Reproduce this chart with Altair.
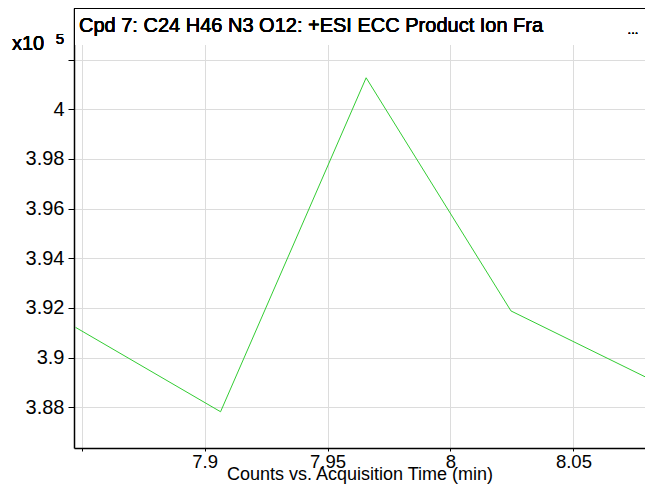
import altair as alt
import pandas as pd

# Acquisition time (min) and counts (x10^5)
times = [7.8475, 7.9065, 7.9657, 8.0246, 8.0836]
counts = [3.9122, 3.8782, 4.0127, 3.9188, 3.8901]

x_ticks = [7.85, 7.9, 7.95, 8.0, 8.05]
y_ticks = [3.88, 3.90, 3.92, 3.94, 3.96, 3.98, 4.00, 4.02]

title_text = "Cpd 7: C24 H46 N3 O12: +ESI ECC Product Ion Fra"
x_title = "Counts vs. Acquisition Time (min)"

W, H = 571, 440
FONT = "Liberation Sans"

df = pd.DataFrame({"t": times, "c": counts})

x_enc = alt.X(
    "t:Q",
    scale=alt.Scale(domain=[7.8469, 8.0791], nice=False, zero=False),
    axis=alt.Axis(
        values=x_ticks,
        labelExpr="datum.value < 7.875 ? '' : format(datum.value, '~g')",
        title=x_title,
        titleFontSize=18,
        titleFont=FONT,
        titleFontWeight="normal",
        titleColor="black",
        titlePadding=-5.5,
        labelFontSize=18.5,
        labelFont=FONT,
        labelColor="black",
        labelPadding=1,
        tickSize=3,
        tickColor="black",
        domainColor="black",
        domainWidth=1.5,
        gridColor="#dcdcdc",
        gridWidth=1,
    ),
)
y_enc = alt.Y(
    "c:Q",
    scale=alt.Scale(domain=[3.8636, 4.0408], nice=False, zero=False),
    axis=alt.Axis(
        values=y_ticks,
        labelExpr="datum.value > 4.01 ? '' : format(datum.value, '~g')",
        title=None,
        labelFontSize=20,
        labelFont=FONT,
        labelColor="black",
        labelPadding=4,
        tickSize=6,
        tickColor="black",
        domainColor="black",
        domainWidth=1.5,
        gridColor="#dcdcdc",
        gridWidth=1,
    ),
)

line = alt.Chart(df).mark_line(color="#33cc33", strokeWidth=1, clip=True).encode(x=x_enc, y=y_enc)

band = alt.Chart(df).mark_rect(fill="white", strokeWidth=0).encode(
    x=alt.value(1), x2=alt.value(W), y=alt.value(0), y2=alt.value(37)
)
top_rule = alt.Chart(df).mark_rule(color="black", strokeWidth=1.5).encode(
    x=alt.value(0), x2=alt.value(W), y=alt.value(0)
)
title = alt.Chart(df).mark_text(
    text=title_text, align="left", baseline="middle", fontSize=20, font=FONT,
    fontWeight="normal", color="black"
).encode(x=alt.value(5), y=alt.value(18))
dots = alt.Chart(df).mark_text(
    text="...", align="center", baseline="middle", fontSize=13, font=FONT,
    fontWeight="normal", color="black"
).encode(x=alt.value(559), y=alt.value(22))
x10 = alt.Chart(df).mark_text(
    text="x10", align="center", baseline="middle", fontSize=20, font=FONT,
    fontWeight="normal", color="black"
).encode(x=alt.value(-46), y=alt.value(36))
exp5 = alt.Chart(df).mark_text(
    text="5", align="center", baseline="middle", fontSize=15, font=FONT,
    fontWeight="normal", color="black"
).encode(x=alt.value(-14), y=alt.value(31))

chart = alt.layer(line, band, top_rule, title, dots, x10, exp5).properties(
    width=W,
    height=H,
    autosize=alt.AutoSizeParams(type="none"),
    padding={"left": 66, "top": 0, "right": 0, "bottom": 36},
).configure_view(strokeWidth=0)

chart.save("out.html", embed_options={"renderer": "svg", "actions": False})
